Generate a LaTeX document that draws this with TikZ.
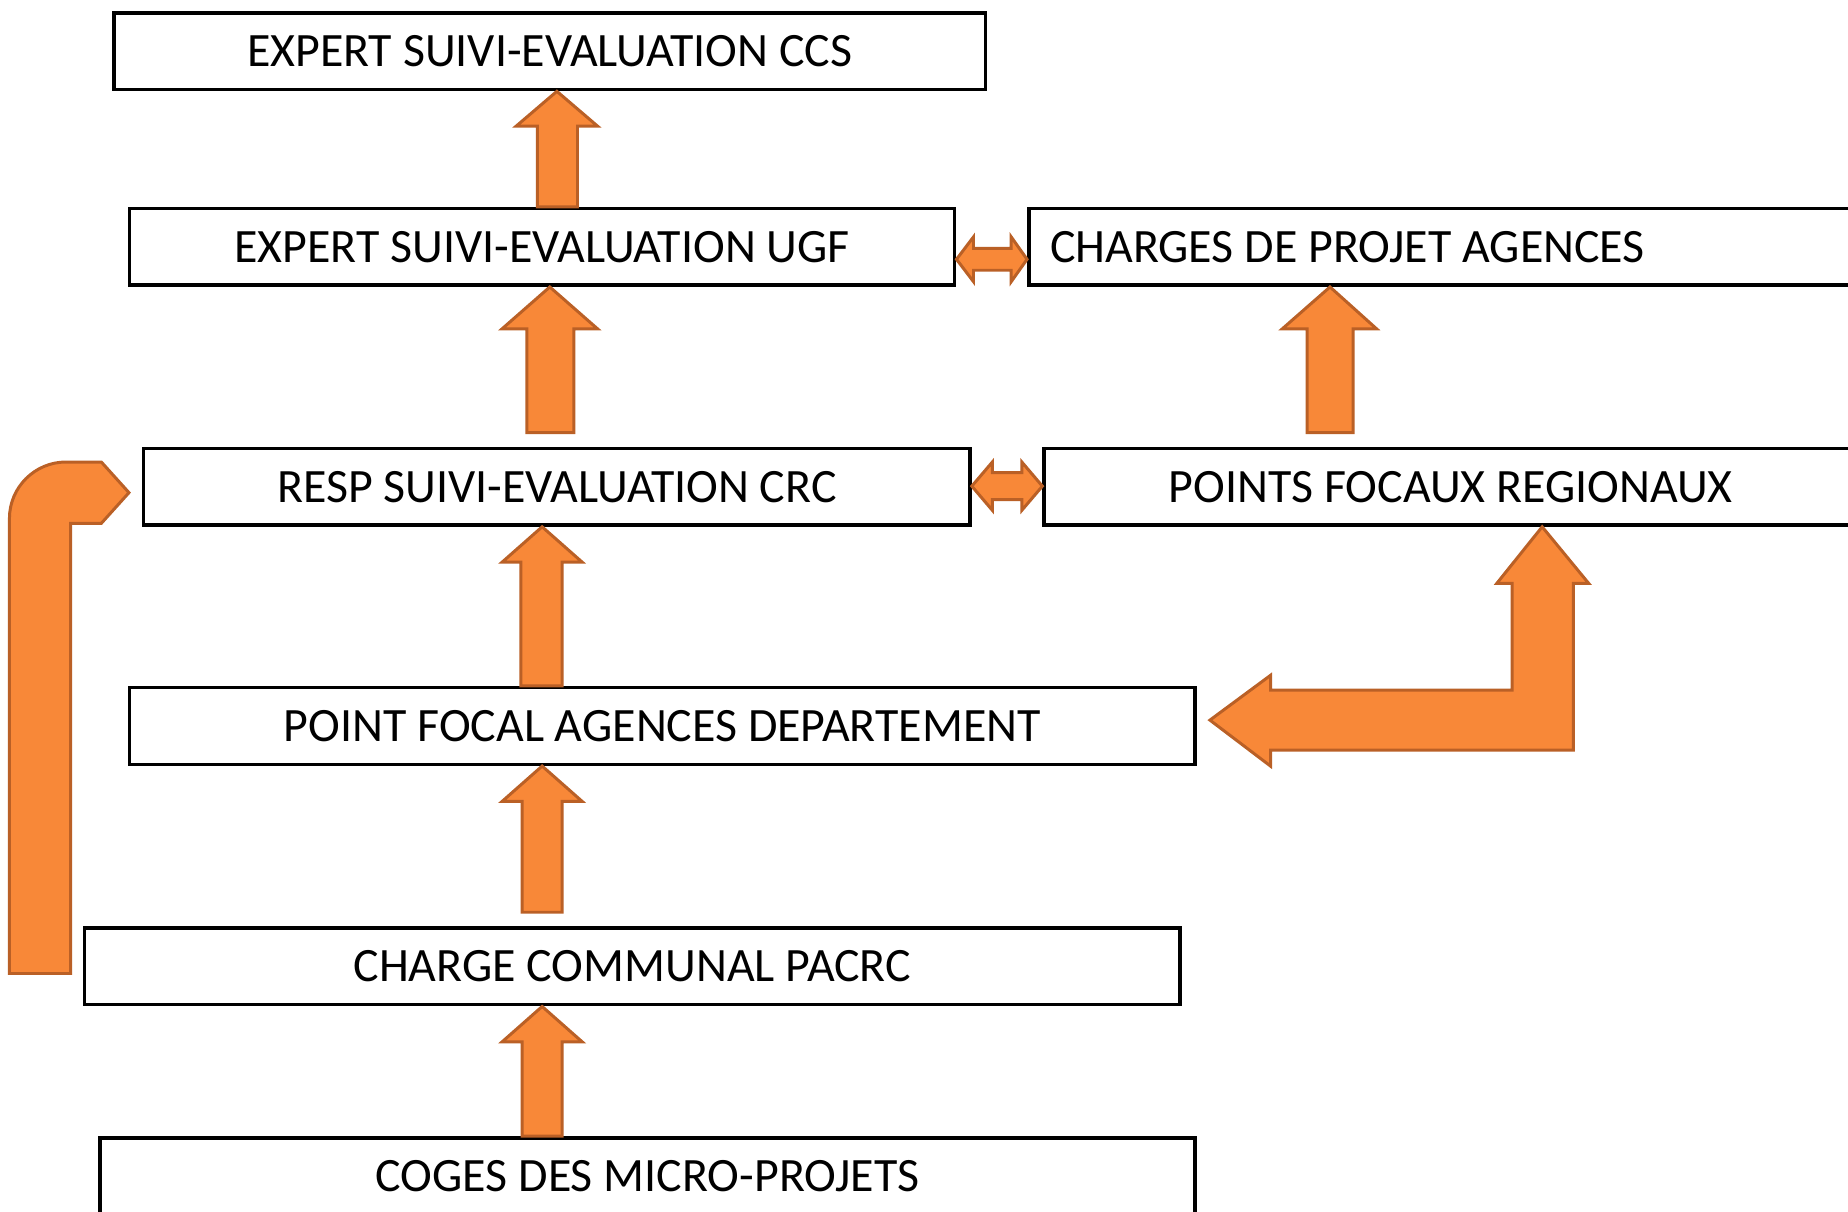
\documentclass[tikz,border=0pt]{standalone}
\usepackage{fontspec}
\setmainfont{Carlito}
\usepackage{tikz}
\usetikzlibrary{calc}
\definecolor{arrfill}{RGB}{248,136,56}
\definecolor{arrline}{RGB}{186,96,38}

\begin{document}
\begin{tikzpicture}
[
x=0.025cm, y=-0.025cm,
box/.style={rectangle,draw,line width=2.1pt,minimum height=1.625cm,
            font=\fontsize{28.9}{34}\selectfont},
blk/.style={fill=arrfill,draw=arrline,line width=1.8pt,line join=miter},
]
\useasboundingbox (0,0) rectangle (1568,1028);
\node (ccs)   [box, minimum width=18.475cm] at (466.5,43.5)  {EXPERT SUIVI-EVALUATION CCS};
\node (ugf)   [box, minimum width=17.5cm]   at (460,209.5)   {EXPERT SUIVI-EVALUATION UGF};
\node (cpa)   [box, inner xsep=0.45cm, text width=16.675cm, align=flush left] at (1224.5,209.5)
                                                             {CHARGES DE PROJET AGENCES};
\node (crc)   [box, minimum width=17.525cm] at (472.5,413)   {RESP SUIVI-EVALUATION CRC};
\node (pfr)   [box, minimum width=17.25cm]  at (1231,413)    {POINTS FOCAUX REGIONAUX};
\node (pfad)  [box, minimum width=22.6cm]   at (562,616)     {POINT FOCAL AGENCES DEPARTEMENT};
\node (pacrc) [box, minimum width=23.225cm] at (536.5,820)   {CHARGE COMMUNAL PACRC};
\node (coges) [box, minimum width=23.225cm] at (549.5,998)   {COGES DES MICRO-PROJETS};

% montantes
\draw [blk] (456,0 |- ugf.north) -- (456,107) -- (438,107) -- (472.5,0 |- ccs.south)
            -- (507,107) -- (490,107) -- (490,0 |- ugf.north) -- cycle;
\draw [blk] ($(447,0 |- crc.north)+(0,-12)$) -- (447,279) -- (426,279) -- (466.5,0 |- ugf.south)
            -- (507,279) -- (487,279) -- ($(487,0 |- crc.north)+(0,-12)$) -- cycle;
\draw [blk] ($(1109,0 |- pfr.north)+(0,-12)$) -- (1109,279) -- (1088,279) -- (1128.5,0 |- cpa.south)
            -- (1168,279) -- (1148,279) -- ($(1148,0 |- pfr.north)+(0,-12)$) -- cycle;
\draw [blk] (442,0 |- pfad.north) -- (442,477) -- (426,477) -- (460,0 |- crc.south)
            -- (494,477) -- (477,477) -- (477,0 |- pfad.north) -- cycle;
\draw [blk] ($(443,0 |- pacrc.north)+(0,-12)$) -- (443,680) -- (426,680) -- (460,0 |- pfad.south)
            -- (494,680) -- (477,680) -- ($(477,0 |- pacrc.north)+(0,-12)$) -- cycle;
\draw [blk] (443,0 |- coges.north) -- (443,884) -- (426,884) -- (460,0 |- pacrc.south)
            -- (494,884) -- (477,884) -- (477,0 |- coges.north) -- cycle;

% doubles
\draw [blk] (ugf.east |- 0,220) -- (826,201) -- (826,210.7) -- (858,210.7) -- (858,201)
            -- (cpa.west |- 0,220) -- (858,239) -- (858,229.3) -- (826,229.3) -- (826,239) -- cycle;
\draw [blk] (crc.east |- 0,412.5) -- (842,392) -- (842,401) -- (867,401) -- (867,392)
            -- (pfr.west |- 0,412.5) -- (867,433) -- (867,424) -- (842,424) -- (842,433) -- cycle;

% coudees
\draw [blk] ($(8,0 |- pacrc.south)+(0,-28)$) [rounded corners=1.2cm] -- (8,392) [sharp corners]
            -- (86,392) -- ($(crc.west)+(-11,5)$) -- (86,444) -- (60,444)
            -- ($(60,0 |- pacrc.south)+(0,-28)$) -- cycle;
\draw [blk] ($(pfad.east)+(11,-5)$) -- (1078,573) -- (1078,585.5) -- (1283,585.5) -- (1283,495)
            -- (1270,495) -- (1308.5,0 |- pfr.south) -- (1348,495) -- (1335,495) -- (1335,636.5)
            -- (1078,636.5) -- (1078,650) -- cycle;
\end{tikzpicture}
\end{document}
